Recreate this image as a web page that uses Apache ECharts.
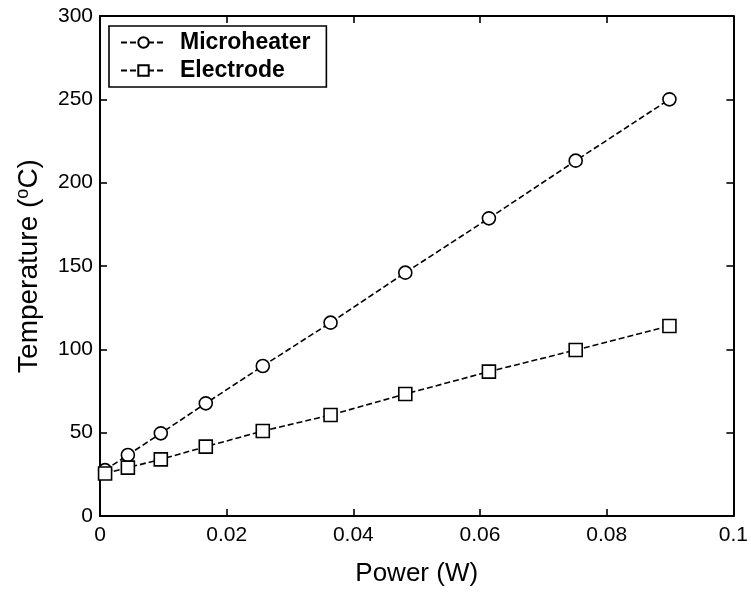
<!DOCTYPE html>
<html><head><meta charset="utf-8">
<script src="https://cdn.jsdelivr.net/npm/echarts@6/dist/echarts.min.js"></script>
<style>html,body{margin:0;padding:0;background:#fff}#c{width:751px;height:594px}</style>
</head><body><div id="c"></div>
<script>
var power = [0.0008, 0.0044, 0.0096, 0.0167, 0.0257, 0.0364, 0.0482, 0.0614, 0.0751, 0.0899];
var microheater = [27.5, 36.6, 49.6, 67.6, 90, 116, 146, 178.6, 213.2, 250];
var electrode = [25.5, 29, 34, 41.6, 51, 60.6, 73.2, 86.6, 99.6, 114];
var seriesNames = ['Microheater', 'Electrode'];

var font = 'Liberation Sans, Arial, sans-serif';
function pairs(xs, ys){ return xs.map(function(x,i){ return [x, ys[i]]; }); }
var lineStyle = {color:'#000', width:1.6, type:[6,3]};
var itemStyle = {color:'#fff', borderColor:'#000', borderWidth:1.6};
var axLine = {show:true, onZero:false, lineStyle:{color:'#000', width:2}};
var tick = {show:true, inside:true, length:7, lineStyle:{color:'#000', width:1.6}};

var chart = echarts.init(document.getElementById('c'));
chart.setOption({
  animation:false,
  backgroundColor:'#fff',
  grid:{left:100, right:17, top:16, bottom:78},
  legend:{
    orient:'vertical', left:109, top:26,
    padding:[5, 16, 5, 11],
    borderColor:'#000', borderWidth:1.6, borderRadius:0,
    itemWidth:45, itemHeight:13, itemGap:5,
    textStyle:{fontFamily:font, fontWeight:'bold', fontSize:23, color:'#000', padding:[0,0,0,9]},
    data:seriesNames
  },
  xAxis:[{
    type:'value', min:0, max:0.1, interval:0.02,
    name:'Power (W)', nameLocation:'middle', nameGap:45,
    nameTextStyle:{fontFamily:font, fontSize:26, color:'#000'},
    axisLine:axLine, axisTick:tick, splitLine:{show:false},
    axisLabel:{fontFamily:font, fontSize:21, color:'#000', margin:9,
      formatter:function(v){ return String(Math.round(v*100)/100); }}
  },{
    type:'value', position:'top', min:0, max:0.1, interval:0.02,
    axisLine:axLine, axisTick:tick, axisLabel:{show:false}, splitLine:{show:false}
  }],
  yAxis:[{
    type:'value', min:0, max:300, interval:50,
    name:'Temperature ({sup|o}C)', nameLocation:'middle', nameGap:56,
    nameTextStyle:{fontFamily:font, fontSize:28, color:'#000',
      rich:{sup:{fontFamily:font, fontSize:18, color:'#000', verticalAlign:'top', padding:[0,0,12,0]}}},
    axisLine:axLine, axisTick:tick, splitLine:{show:false},
    axisLabel:{fontFamily:font, fontSize:21, color:'#000', margin:7}
  },{
    type:'value', position:'right', min:0, max:300, interval:50,
    axisLine:axLine, axisTick:tick, axisLabel:{show:false}, splitLine:{show:false}
  }],
  series:[{
    name:seriesNames[0], type:'line', data:pairs(power, microheater),
    symbol:'circle', symbolSize:13, showAllSymbol:true,
    lineStyle:lineStyle, itemStyle:itemStyle
  },{
    name:seriesNames[1], type:'line', data:pairs(power, electrode),
    symbol:'rect', symbolSize:13, showAllSymbol:true,
    lineStyle:lineStyle, itemStyle:itemStyle
  }]
});
</script></body></html>
